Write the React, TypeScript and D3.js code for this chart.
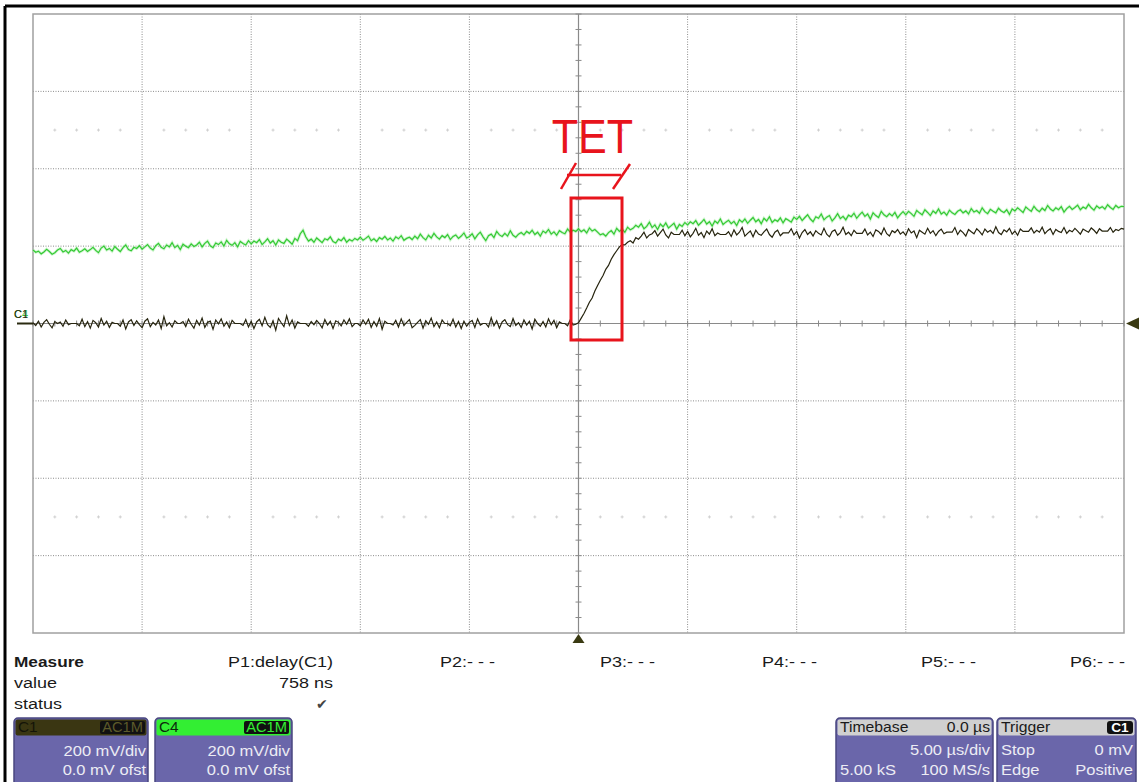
import React from "react";
import * as d3 from "d3";

const W = 1139;
const H = 782;

// sampling grid of the two traces (µs)
const timeStartUs = -25;
const timeStepUs = 0.125;

// Channel 1 (mV) – dark trace
const c1Values = [
  2, -5, 6, -9, 3, 10, -2, -11, 5, 0, 4, -7, 9, -3, 0, 0, 0, -6, 11, -8,
  5, -12, 8, 2, -9, 13, -4, 6, -10, 3, 0, 0, -7, 9, -14, 4, 10, -5, 7, -3,
  -11, 6, 12, -8, 3, -4, 9, -13, 18, -6, 2, -9, 7, 0, 0, 5, -8, 11, -2, -12,
  8, -4, 14, -10, 3, 6, -15, 9, -1, 12, -7, 4, -11, 8, 0, 0, 0, -5, 10, -9,
  6, -13, 4, 11, -6, 16, -3, -10, 7, -17, 13, 2, -8, 20, -5, 9, -12, 4, 0, 0,
  0, -7, 5, -3, 8, 0, -11, 10, -4, 6, -13, 7, 3, -6, 9, -2, 12, -8, 0, 0,
  -6, 9, -2, 11, -10, 5, -7, 13, -15, 6, 0, 0, -4, 8, -9, 12, -5, 3, 10, -11,
  -5, 3, 10, -12, 7, -2, 14, -8, 4, -11, 9, 0, 0, -6, 11, -9, 5, -13, 6, -7,
  3, 8, -10, 12, -4, 0, 0, -9, 15, -6, 7, -12, 4, 10, -3, -8, 13, -5, 2, -10,
  9, -4, 6, -14, 11, 0, -7, 5, -9, 12, -3, 8, -11, 4, 0, 0, -6, 10, -4, -2,
  2, 14, 26, 40, 55, 66, 84, 98, 112, 124, 140, 150, 166, 178, 188, 198, 204, 203, 210, 214,
  208, 222, 218, 226, 236, 221, 229,
  232, 240, 226, 235, 244, 229, 221, 236, 230, 230, 230, 241, 227, 238, 224, 233, 246, 228, 235, 222,
  239, 231, 245, 227, 234, 230, 230, 230, 237, 225, 242, 229, 236, 248, 226, 233, 239, 224, 241, 231,
  228, 237, 244, 230, 223, 236, 241, 227, 234, 234, 234, 245, 229, 238, 221, 235, 243, 230, 237, 226,
  240, 233, 229, 246, 231, 224, 238, 242, 228, 235, 249, 230, 236, 227, 241, 233, 233, 233, 244, 229,
  236, 225, 242, 238, 230, 247, 232, 226, 240, 235, 243, 231, 237, 228, 245, 234, 239, 222, 241, 236,
  231, 246, 233, 240, 227, 238, 244, 232, 236, 236, 236, 248, 230, 241, 235, 226, 243, 237, 232, 245,
  238, 229, 244, 236, 241, 233, 250, 235, 230, 242, 237, 246, 231, 239, 228, 244, 238, 238, 238, 247,
  234, 241, 236, 249, 232, 240, 245, 230, 243, 238, 235, 248, 233, 241, 237, 246, 239, 231, 244, 240,
  236, 247, 241, 233, 245, 239, 239, 239, 248, 236, 243, 240, 246, 244,
];

// Channel 4 (mV) – green trace
const c4Values = [
  190, 184, 187, 180, 185, 192, 186, 179, 183, 190, 194, 185, 189, 182, 191, 187, 195, 184, 188, 193,
  186, 191, 197, 189, 183, 195, 200, 190, 194, 187, 199, 192, 186, 196, 203, 191, 188, 197, 194, 201,
  192, 198, 204, 195, 190, 201, 207, 197, 193, 203, 198, 209, 196, 202, 191, 205, 200, 196, 206, 199,
  203, 210, 198, 207, 213, 201, 196, 208, 204, 211, 200, 215, 206, 202, 209, 198, 212, 207, 203, 214,
  206, 213, 209, 217, 204, 211, 219, 208, 214, 203, 216, 210, 207, 218, 212, 205, 220, 214, 232, 241,
  224, 213, 218, 210, 221, 215, 209, 219, 216, 224, 212, 208, 218, 214, 222, 210, 217, 213, 220, 216,
  223, 215, 220, 226, 214, 219, 212, 222, 218, 225, 216, 221, 213, 224, 219, 227, 215, 220, 223, 217,
  226, 219, 231, 222, 216, 228, 221, 233, 224, 218, 227, 222, 230, 217, 225, 229, 220, 226, 234, 221,
  225, 232, 219, 229, 236, 224, 214, 227, 231, 222, 238, 229, 225, 233, 226, 240, 228, 223, 231, 235,
  229, 238, 233, 241, 230, 236, 226, 239, 234, 243, 231, 237, 228, 240, 235, 232, 244, 236, 241, 238,
  245, 237, 242, 234, 247, 239, 243, 236, 229, 232, 226, 235, 240, 231, 246, 238, 244, 236, 249, 242,
  246, 254, 249, 258, 245, 251, 262, 248, 255, 243, 257, 250, 260, 247, 253, 259, 244, 256, 251, 261,
  255, 263, 258, 266, 254, 261, 269, 257, 263, 252, 265, 259, 270, 256, 262, 267, 258, 264, 253, 268,
  262, 270, 259, 267, 274, 263, 269, 258, 272, 265, 276, 261, 268, 264, 273, 260, 271, 267, 262, 275,
  269, 277, 266, 274, 281, 270, 263, 276, 272, 283, 268, 275, 279, 265, 273, 284, 271, 277, 268, 280,
  276, 285, 272, 281, 288, 277, 283, 270, 286, 279, 274, 290, 281, 276, 284, 278, 287, 273, 282, 289,
  281, 290, 284, 277, 292, 286, 281, 294, 287, 279, 291, 285, 296, 283, 288, 280, 293, 286, 282, 290,
  294, 286, 291, 283, 297, 288, 292, 285, 299, 289, 284, 295, 290, 286, 298, 291, 287, 294, 282, 296,
  291, 299, 293, 287, 301, 295, 290, 303, 294, 289, 298, 292, 305, 296, 291, 299, 294, 302, 288, 297,
  303, 295, 300, 306, 294, 301, 297, 308, 299, 293, 304, 298, 302, 296, 307, 300, 295, 305, 299, 303,
  302,
];

const xTicksUs = [-25, -20, -15, -10, -5, 0, 5, 10, 15, 20, 25];
const yTicksMv = [-800, -600, -400, -200, 0, 200, 400, 600, 800];
const minorStepUs = 1;
const minorStepMv = 40;
const dotRowsMv = [500, -500];

const measureNames = ["Measure", "value", "status"];
const measureParams = ["P1:delay(C1)", "P2:- - -", "P3:- - -", "P4:- - -", "P5:- - -", "P6:- - -"];
const measureParamX = [333, 440, 600, 762, 921, 1070];
const p1Value = "758 ns";

const channelBoxes = [
  { name: "C1", coupling: "AC1M", scale: "200 mV/div", offset: "0.0 mV ofst", head: "#3a3612", text: "#141408", tag: "#5c5a2a" },
  { name: "C4", coupling: "AC1M", scale: "200 mV/div", offset: "0.0 mV ofst", head: "#33ee33", text: "#0c2a0c", tag: "#33ee33" },
];

const FONT = "'Liberation Sans', Arial, Helvetica, sans-serif";

function Txt(props: {
  x: number; y: number; s?: number; sx?: number; anchor?: string; fill?: string; weight?: string; children: React.ReactNode;
}) {
  const { x, y, s = 15, sx = 1.2, anchor = "start", fill = "#1a1a1a", weight = "normal", children } = props;
  return (
    <text
      transform={`translate(${x},${y}) scale(${sx},1)`}
      fontSize={s}
      fontFamily={FONT}
      textAnchor={anchor as any}
      fill={fill}
      fontWeight={weight}
    >
      {children}
    </text>
  );
}

export default function App() {
  const x = d3.scaleLinear().domain([-25, 25]).range([33, 1124]);
  const y = d3.scaleLinear().domain([-800, 800]).range([633, 14]);

  const c1 = c1Values.map((v, i) => [timeStartUs + i * timeStepUs, v] as [number, number]);
  const c4 = c4Values.map((v, i) => [timeStartUs + i * timeStepUs, v] as [number, number]);
  const line = d3
    .line<[number, number]>()
    .x((d) => x(d[0]))
    .y((d) => y(d[1]));

  const minorT = d3.range(-25, 25.001, minorStepUs);
  const minorV = d3.range(-800, 800.001, minorStepMv);
  const x0 = x(0);
  const y0 = y(0);

  const boxTop = 718;

  return (
    <div style={{ position: "absolute", left: 0, top: 0, width: W, height: H, background: "#fff" }}>
      <svg width={W} height={H} style={{ display: "block" }}>
        <rect x={0} y={0} width={W} height={H} fill="#fff" />
        {/* outer frame */}
        <line x1={5} y1={6} x2={W} y2={6} stroke="#000" strokeWidth={3} />
        <line x1={5} y1={6} x2={5} y2={H} stroke="#000" strokeWidth={3} />

        {/* faint dot rows */}
        {dotRowsMv.map((mv) =>
          minorT
            .filter((t) => t % 5 !== 0)
            .map((t) => (
              <g key={`d${mv}_${t}`} stroke="#cfcfcf" strokeWidth={1}>
                <line x1={x(t) - 1.5} x2={x(t) + 1.5} y1={y(mv)} y2={y(mv)} />
                <line x1={x(t)} x2={x(t)} y1={y(mv) - 1.5} y2={y(mv) + 1.5} />
              </g>
            ))
        )}

        {/* dotted grid */}
        {xTicksUs
          .filter((t) => t !== 0 && Math.abs(t) !== 25)
          .map((t) => (
            <line key={`vx${t}`} x1={x(t)} x2={x(t)} y1={y(800)} y2={y(-800)} stroke="#8c8c8c" strokeWidth={1} strokeDasharray="1,1.5" />
          ))}
        {yTicksMv
          .filter((v) => v !== 0 && Math.abs(v) !== 800)
          .map((v) => (
            <line key={`hy${v}`} x1={x(-25)} x2={x(25)} y1={y(v)} y2={y(v)} stroke="#8c8c8c" strokeWidth={1} strokeDasharray="1,1.5" />
          ))}

        {/* frame of the grid */}
        <rect x={x(-25)} y={y(800)} width={x(25) - x(-25)} height={y(-800) - y(800)} fill="none" stroke="#a0a0a0" strokeWidth={1.5} />

        {/* center axes */}
        <line x1={x(-25)} x2={x(25)} y1={y0} y2={y0} stroke="#8a8a8a" strokeWidth={1.2} />
        <line x1={x0} x2={x0} y1={y(800)} y2={y(-800)} stroke="#8a8a8a" strokeWidth={1.2} />
        {minorT.map((t) => (
          <line key={`mt${t}`} x1={x(t)} x2={x(t)} y1={y0 - 3} y2={y0 + 3} stroke="#8a8a8a" strokeWidth={1} />
        ))}
        {minorV.map((v) => (
          <line key={`mv${v}`} x1={x0 - 3} x2={x0 + 3} y1={y(v)} y2={y(v)} stroke="#8a8a8a" strokeWidth={1} />
        ))}

        {/* traces */}
        <path d={line(c4) || ""} fill="none" stroke="#b4f0b4" strokeWidth={3} strokeOpacity={0.6} />
        <path d={line(c4) || ""} fill="none" stroke="#34c934" strokeWidth={1.2} />
        <path d={line(c1) || ""} fill="none" stroke="#26240e" strokeWidth={1.2} />

        {/* channel markers */}
        <text x={14} y={318} fontSize={11} fontFamily={FONT} fill="#3cc03c">C4</text>
        <text x={14} y={318} fontSize={11} fontFamily={FONT} fill="#2a2a10">C1</text>
        <line x1={17} x2={33} y1={y0} y2={y0} stroke="#2a2a10" strokeWidth={2} />
        <path d={`M ${x(25) + 2},${y0} L ${W},${y0 - 6} L ${W},${y0 + 6} Z`} fill="#3a3a12" />
        <path d={`M ${x0},${y(-800) + 1} L ${x0 - 6},${y(-800) + 10} L ${x0 + 6},${y(-800) + 10} Z`} fill="#3a3a12" />

        {/* annotation */}
        <rect x={571} y={198} width={51} height={142} fill="none" stroke="#e8141c" strokeWidth={3} />
        <text
          transform={`translate(592.5,153) scale(0.88,1)`}
          fontSize={49}
          fontFamily={FONT}
          textAnchor="middle"
          fill="#e8141c"
        >
          TET
        </text>
        <g stroke="#e8141c" strokeWidth={2.5}>
          <line x1={561} y1={189} x2={576} y2={163} />
          <line x1={567} y1={175} x2={621} y2={175} />
          <line x1={613} y1={189} x2={630} y2={164} />
        </g>

        {/* measure table */}
        <Txt x={14} y={667} weight="bold" sx={1.15}>{measureNames[0]}</Txt>
        <Txt x={14} y={688}>{measureNames[1]}</Txt>
        <Txt x={14} y={709}>{measureNames[2]}</Txt>
        {measureParams.map((p, i) => (
          <Txt key={p + i} x={measureParamX[i]} y={667} anchor={i === 0 ? "end" : "start"}>
            {p}
          </Txt>
        ))}
        <Txt x={333} y={688} anchor="end">{p1Value}</Txt>
        <text x={316} y={709} fontSize={14} fontFamily="'DejaVu Sans', sans-serif" fill="#444">✔</text>

        {/* channel boxes */}
        {channelBoxes.map((b, i) => {
          const bx = i === 0 ? 14 : 155;
          const bw = i === 0 ? 134 : 137;
          return (
            <g key={b.name}>
              <rect x={bx} y={boxTop} width={bw} height={H - boxTop + 6} rx={4} fill="#6a66aa" stroke="#4a4780" strokeWidth={1.5} />
              <rect x={bx + 1.5} y={boxTop + 1.5} width={bw - 3} height={16} rx={2} fill={b.head} />
              <rect x={bx + bw - 48} y={boxTop + 3} width={45} height={13} rx={2} fill="#111" />
              <Txt x={bx + 4} y={boxTop + 14} s={14} sx={1.1} fill={b.text}>{b.name}</Txt>
              <Txt x={bx + bw - 5} y={boxTop + 14} s={14} sx={1.05} anchor="end" fill={b.tag}>{b.coupling}</Txt>
              <Txt x={bx + bw - 2} y={756} s={15} sx={1.1} anchor="end" fill="#ececf4">{b.scale}</Txt>
              <Txt x={bx + bw - 2} y={775} s={15} sx={1.1} anchor="end" fill="#ececf4">{b.offset}</Txt>
            </g>
          );
        })}

        {/* timebase */}
        <g>
          <rect x={836} y={boxTop} width={157} height={H - boxTop + 6} rx={4} fill="#6a66aa" stroke="#4a4780" strokeWidth={1.5} />
          <rect x={837.5} y={boxTop + 1.5} width={154} height={16} rx={2} fill="#d0d0d0" />
          <Txt x={840} y={boxTop + 14} s={15} sx={1.05}>Timebase</Txt>
          <Txt x={990} y={boxTop + 14} s={15} sx={1.05} anchor="end">0.0 µs</Txt>
          <Txt x={990} y={755} s={15} sx={1.1} anchor="end" fill="#ececf4">5.00 µs/div</Txt>
          <Txt x={840} y={775} s={15} sx={1.1} fill="#ececf4">5.00 kS</Txt>
          <Txt x={990} y={775} s={15} sx={1.1} anchor="end" fill="#ececf4">100 MS/s</Txt>
        </g>
        {/* trigger */}
        <g>
          <rect x={997} y={boxTop} width={139} height={H - boxTop + 6} rx={4} fill="#6a66aa" stroke="#4a4780" strokeWidth={1.5} />
          <rect x={998.5} y={boxTop + 1.5} width={136} height={16} rx={2} fill="#d0d0d0" />
          <Txt x={1001} y={boxTop + 14} s={15} sx={1.05}>Trigger</Txt>
          <rect x={1107} y={boxTop + 3} width={26} height={13} rx={3} fill="#111" />
          <Txt x={1120} y={boxTop + 14} s={13} sx={1.05} anchor="middle" fill="#fff" weight="bold">C1</Txt>
          <Txt x={1001} y={755} s={15} sx={1.1} fill="#ececf4">Stop</Txt>
          <Txt x={1133} y={755} s={15} sx={1.1} anchor="end" fill="#ececf4">0 mV</Txt>
          <Txt x={1001} y={775} s={15} sx={1.1} fill="#ececf4">Edge</Txt>
          <Txt x={1133} y={775} s={15} sx={1.1} anchor="end" fill="#ececf4">Positive</Txt>
        </g>
      </svg>
    </div>
  );
}
